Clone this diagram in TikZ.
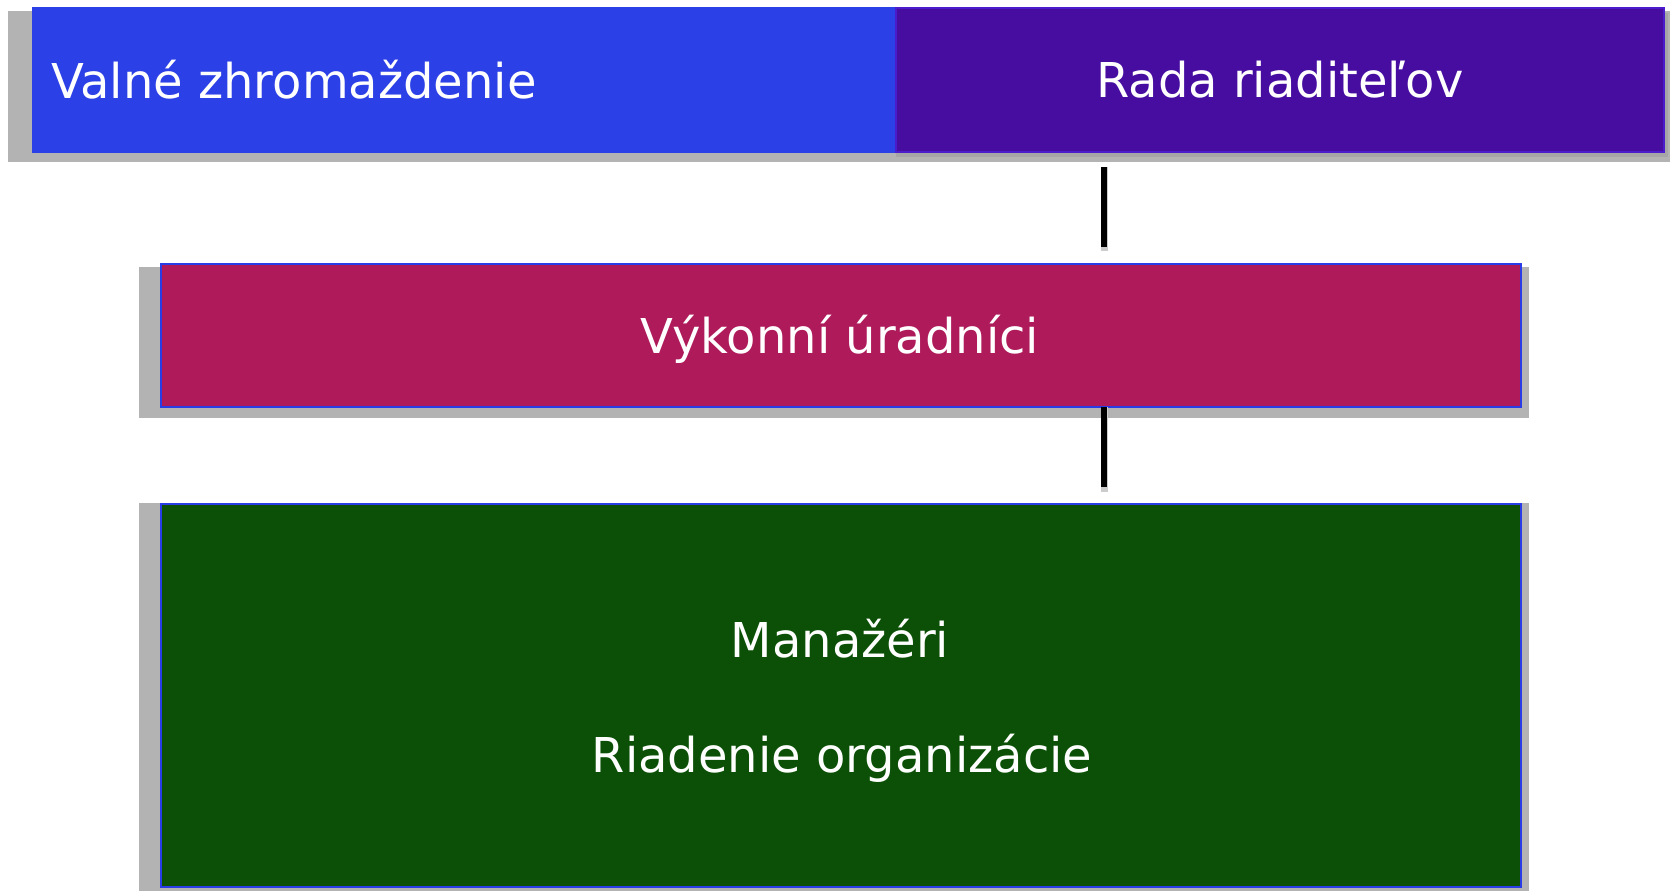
\documentclass[tikz,border=0pt]{standalone}
\usepackage{fontspec}
\setmainfont{DejaVu Sans}
\definecolor{vzblue}{HTML}{2B40E6}
\definecolor{rdpurple}{HTML}{470DA1}
\definecolor{rdedge}{HTML}{4A1CCC}
\definecolor{vumag}{HTML}{AE1A5A}
\definecolor{mggreen}{HTML}{0B5006}
\definecolor{edgeblue}{HTML}{2A3CE6}
\definecolor{shadowgray}{HTML}{B3B3B3}
\definecolor{shadowdark}{HTML}{A6A6A6}
\definecolor{tipgray}{HTML}{CCCCCC}
\begin{document}
\begin{tikzpicture}[x=1pt,y=-1pt,
  box/.style={rectangle,inner sep=0pt,anchor=north west,line width=2pt},
  lbl/.style={inner sep=0pt,text=white,font=\fontsize{48}{58}\selectfont},
  shadowbox/.style={fill=shadowgray,draw=none},
  conn/.style={line width=6pt,black},
  conntip/.style={line width=7pt,tipgray}]
\useasboundingbox (0,0) rectangle (1670,891);
% shadows
\fill[shadowbox] (8,11) rectangle (1670,162);
\fill[shadowdark] (896,152) rectangle (1668,157);
\fill[shadowdark] (1664,13) rectangle (1668,157);
\fill[shadowbox] (139,267) rectangle (1529,418);
\fill[shadowbox] (139,503) rectangle (1529,891);
% boxes
\node[box,fill=vzblue,draw=vzblue,minimum width=861pt,minimum height=144pt] (vz) at (32,7) {};
\node[box,fill=rdpurple,draw=rdedge,minimum width=768pt,minimum height=144pt] (rd) at (895,7) {};
\node[box,fill=vumag,draw=edgeblue,minimum width=1360pt,minimum height=143pt] (vu) at (160,263) {};
\node[box,fill=mggreen,draw=edgeblue,minimum width=1360pt,minimum height=383pt] (mg) at (160,503) {};
% labels
\node[lbl,anchor=base west] (tvz) at (51,98) {Valné zhromaždenie};
\node[lbl,anchor=base] (trd) at (1280,97) {Rada riaditeľov};
\node[lbl,anchor=base] (tvu) at (840,353) {Výkonní úradníci};
\node[lbl,anchor=base] (tmg1) at (840,657) {Manažéri};
\node[lbl,anchor=base] (tmg2) at (842,772) {Riadenie organizácie};
% connectors
\coordinate (c1a) at (1104,167);
\coordinate (c1b) at (1104,247);
\coordinate (c1t) at (1104,251);
\coordinate (c2a) at (1104,407);
\coordinate (c2b) at (1104,487);
\coordinate (c2t) at (1104,492);
\draw[conntip] (c1a) -- (c1t);
\draw[conn] (c1a) -- (c1b);
\draw[conntip] (c2a) -- (c2t);
\draw[conn] (c2a) -- (c2b);
\end{tikzpicture}
\end{document}
